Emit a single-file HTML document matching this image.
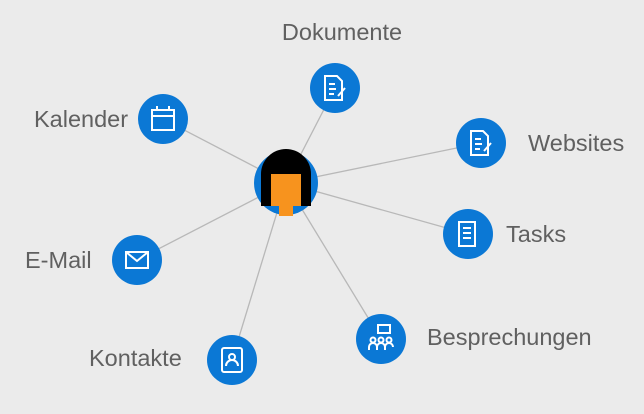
<!DOCTYPE html>
<html><head><style>
html,body{margin:0;padding:0;background:#ebebeb;}
svg{display:block}
text{font-family:"Liberation Sans",sans-serif;font-size:23.5px;fill:#606060;}
</style></head><body>
<svg width="644" height="414" viewBox="0 0 644 414">
<rect width="644" height="414" fill="#ebebeb"/>
<g stroke="#b8b8b8" stroke-width="1.3">
<line x1="286" y1="183" x2="335" y2="88"/>
<line x1="286" y1="183" x2="481" y2="143"/>
<line x1="286" y1="183" x2="163" y2="119"/>
<line x1="286" y1="183" x2="468" y2="234"/>
<line x1="286" y1="183" x2="137" y2="260"/>
<line x1="286" y1="183" x2="381" y2="339"/>
<line x1="286" y1="183" x2="232" y2="360"/>
</g>
<g fill="#0b78d5">
<circle cx="335" cy="88" r="25"/>
<circle cx="481" cy="143" r="25"/>
<circle cx="163" cy="119" r="25"/>
<circle cx="468" cy="234" r="25"/>
<circle cx="137" cy="260" r="25"/>
<circle cx="381" cy="339" r="25"/>
<circle cx="232" cy="360" r="25"/>
<circle cx="286" cy="183" r="32"/>
</g>
<g stroke="#fff" stroke-width="2" fill="none">
<path d="M325 76h12l5 5v19h-17z"/><path d="M329 84h6M329 89h7M329 94h5"/><path d="M338 96l7-8"/>
<path d="M471 131h12l5 5v19h-17z"/><path d="M475 139h6M475 144h7M475 149h5"/><path d="M484 151l7-8"/>
<rect x="152" y="110" width="22" height="20"/><path d="M152 116h22M157 106v5M169 106v5"/>
<path d="M459 222h16v24h-16z"/><path d="M463 228h8M463 233h8M463 238h8"/>
<rect x="126" y="252" width="22" height="16"/><path d="M126 252l11 9l11-9"/>
<rect x="378" y="325" width="12" height="8"/><circle cx="373" cy="340" r="2.5"/><circle cx="381" cy="340" r="2.5"/><circle cx="389" cy="340" r="2.5"/><path d="M369 350v-3a4 4 0 0 1 8 0M377 350v-3a4 4 0 0 1 8 0M385 350v-3a4 4 0 0 1 8 0"/>
<rect x="222" y="348" width="20" height="24" rx="2"/><circle cx="232" cy="357" r="3"/><path d="M226 366a6 6 0 0 1 12 0"/>
</g>
<path d="M261 206v-32a25 25 0 0 1 50 0v32z" fill="#000"/>
<rect x="271" y="174" width="30" height="32" fill="#f7931e"/>
<rect x="279" y="200" width="14" height="16" fill="#f7931e"/>
<path d="M268 166h36v8h-36z" fill="#000"/>
<text x="342" y="40" text-anchor="middle">Dokumente</text>
<text x="528" y="151">Websites</text>
<text x="34" y="127">Kalender</text>
<text x="506" y="242">Tasks</text>
<text x="25" y="268">E-Mail</text>
<text x="427" y="345">Besprechungen</text>
<text x="89" y="366">Kontakte</text>
</svg>
</body></html>
